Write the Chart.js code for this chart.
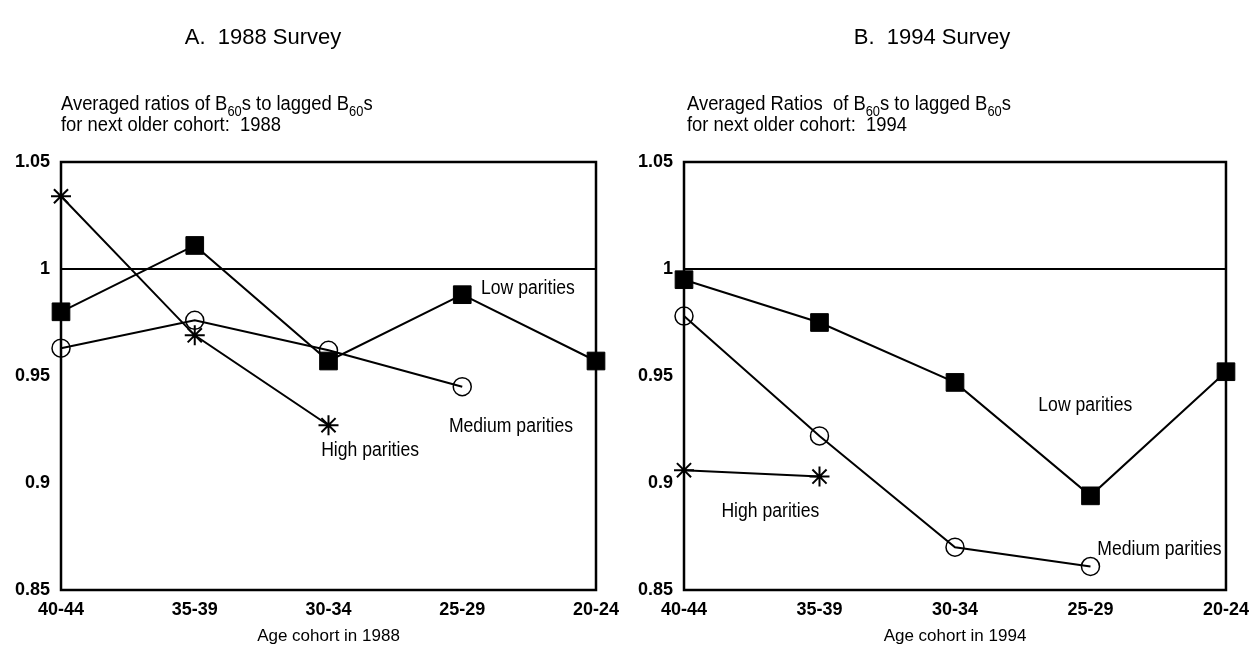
<!DOCTYPE html>
<html>
<head>
<meta charset="utf-8">
<script src="https://cdn.jsdelivr.net/npm/chart.js@4.4.1/dist/chart.umd.min.js"></script>
<style>
  body { margin: 0; background: #fff; }
  .panel { position: absolute; top: 0; width: 629px; height: 650px; }
  #panel-a { left: 0; }
  #panel-b { left: 629px; }
</style>
</head>
<body>
<div class="panel" id="panel-a"><canvas id="chart-1988" width="629" height="650"></canvas></div>
<div class="panel" id="panel-b"><canvas id="chart-1994" width="629" height="650"></canvas></div>
<script>
  const AGE_COHORTS = ["40-44", "35-39", "30-34", "25-29", "20-24"];
  const Y_TICKS = [0.85, 0.9, 0.95, 1, 1.05];

  // averaged ratios, 1988 survey
  const LOW_1988 = [0.980, 1.011, 0.957, 0.988, 0.957];
  const MEDIUM_1988 = [0.963, 0.976, 0.962, 0.945, null];
  const HIGH_1988 = [1.034, 0.969, 0.927, null, null];

  // averaged ratios, 1994 survey
  const LOW_1994 = [0.995, 0.975, 0.947, 0.894, 0.952];
  const MEDIUM_1994 = [0.978, 0.922, 0.870, 0.861, null];
  const HIGH_1994 = [0.906, 0.903, null, null, null];

  const FONT = "'Liberation Sans', Arial, Helvetica, sans-serif";

  // draws text made of plain strings and {sub: "..."} parts, squeezed horizontally
  const drawRich = function (ctx, parts, x, y, size, squeeze) {
    ctx.save();
    ctx.translate(x, y);
    ctx.scale(squeeze, 1);
    ctx.textAlign = "left";
    ctx.textBaseline = "alphabetic";
    let cx = 0;
    parts.forEach((p) => {
      if (typeof p === "string") {
        ctx.font = size + "px " + FONT;
        ctx.fillText(p, cx, 0);
        cx += ctx.measureText(p).width;
      } else {
        const s = Math.round(size * 0.68);
        ctx.font = s + "px " + FONT;
        ctx.fillText(p.sub, cx, size * 0.3);
        cx += ctx.measureText(p.sub).width;
      }
    });
    ctx.restore();
  };

  const surveyDecor = {
    id: "surveyDecor",
    beforeDatasetsDraw: function (chart) {
      const ctx = chart.ctx;
      const a = chart.chartArea;
      const y1 = chart.scales.y.getPixelForValue(1);
      ctx.save();
      ctx.strokeStyle = "#000";
      ctx.lineWidth = 2.5;
      ctx.strokeRect(a.left, a.top, a.right - a.left, a.bottom - a.top);
      ctx.lineWidth = 2;
      ctx.beginPath();
      ctx.moveTo(a.left, y1);
      ctx.lineTo(a.right, y1);
      ctx.stroke();
      ctx.restore();
    },
    afterDraw: function (chart) {
      const ctx = chart.ctx;
      const a = chart.chartArea;
      const o = chart.options.plugins.surveyDecor;
      const xs = chart.scales.x;
      const ys = chart.scales.y;
      ctx.save();
      ctx.fillStyle = "#000";
      ctx.font = "22px " + FONT;
      ctx.textAlign = "center";
      ctx.textBaseline = "middle";
      ctx.fillText(o.title, o.titleX, 38);

      drawRich(ctx, o.subtitle[0], o.subX, 110, 20, 0.92);
      drawRich(ctx, o.subtitle[1], o.subX, 131, 20, 0.92);

      ctx.font = "17px " + FONT;
      ctx.textAlign = "center";
      ctx.textBaseline = "middle";
      ctx.fillText(o.xTitle, (a.left + a.right) / 2, 636);

      o.notes.forEach((n) => {
        ctx.save();
        ctx.translate(xs.getPixelForValue(n.at), ys.getPixelForValue(n.value));
        ctx.scale(0.88, 1);
        ctx.font = "20px " + FONT;
        ctx.textAlign = "left";
        ctx.textBaseline = "middle";
        ctx.fillText(n.text, 0, 0);
        ctx.restore();
      });
      ctx.restore();
    },
  };

  const lowSeries = function (data) {
    return {
      label: "Low parities",
      data,
      borderColor: "#000",
      borderWidth: 2,
      pointStyle: "rect",
      pointRadius: 12.5,
      pointBackgroundColor: "#000",
      pointBorderColor: "#000",
      pointBorderWidth: 1,
      tension: 0,
      clip: false,
    };
  };
  const mediumSeries = function (data) {
    return {
      label: "Medium parities",
      data,
      borderColor: "#000",
      borderWidth: 2,
      pointStyle: "circle",
      pointRadius: 9,
      pointBackgroundColor: "rgba(0,0,0,0)",
      pointBorderColor: "#000",
      pointBorderWidth: 1.5,
      tension: 0,
      clip: false,
    };
  };
  const highSeries = function (data) {
    return {
      label: "High parities",
      data,
      borderColor: "#000",
      borderWidth: 2,
      pointStyle: "star",
      pointRadius: 10,
      pointBorderColor: "#000",
      pointBorderWidth: 2,
      tension: 0,
      clip: false,
    };
  };

  const makeChart = function (canvasId, cfg) {
    return new Chart(document.getElementById(canvasId), {
      type: "line",
      data: {
        labels: AGE_COHORTS,
        datasets: [lowSeries(cfg.low), mediumSeries(cfg.medium), highSeries(cfg.high)],
      },
      options: {
        responsive: false,
        animation: false,
        devicePixelRatio: 1,
        layout: { padding: { top: 162, right: cfg.padRight, bottom: 0, left: 0 } },
        plugins: {
          legend: { display: false },
          tooltip: { enabled: false },
          surveyDecor: cfg.decor,
        },
        scales: {
          x: {
            type: "category",
            offset: false,
            grid: { display: false, drawTicks: false },
            border: { display: false },
            ticks: {
              color: "#000",
              font: { family: FONT, size: 18, weight: "bold" },
              padding: 9,
              maxRotation: 0,
              autoSkip: false,
            },
            afterFit: (s) => {
              s.height = 60;
            },
          },
          y: {
            min: 0.85,
            max: 1.05,
            grid: { display: false, drawTicks: false },
            border: { display: false },
            afterBuildTicks: (s) => {
              s.ticks = Y_TICKS.map((v) => ({ value: v }));
            },
            ticks: {
              color: "#000",
              font: { family: FONT, size: 18, weight: "bold" },
              padding: 11,
              callback: (v) => String(v),
            },
            afterFit: (s) => {
              s.width = cfg.yWidth;
            },
          },
        },
      },
      plugins: [surveyDecor],
    });
  };

  makeChart("chart-1988", {
    low: LOW_1988,
    medium: MEDIUM_1988,
    high: HIGH_1988,
    yWidth: 61,
    padRight: 33,
    decor: {
      title: "A.  1988 Survey",
      titleX: 263,
      subX: 61,
      subtitle: [
        ["Averaged ratios of B", { sub: "60" }, "s to lagged B", { sub: "60" }, "s"],
        ["for next older cohort:  1988"],
      ],
      xTitle: "Age cohort in 1988",
      notes: [
        { text: "Low parities", at: 3.14, value: 0.991 },
        { text: "Medium parities", at: 2.9, value: 0.9264 },
        { text: "High parities", at: 1.945, value: 0.9151 },
      ],
    },
  });

  makeChart("chart-1994", {
    low: LOW_1994,
    medium: MEDIUM_1994,
    high: HIGH_1994,
    yWidth: 55,
    padRight: 30,
    decor: {
      title: "B.  1994 Survey",
      titleX: 303,
      subX: 58,
      subtitle: [
        ["Averaged Ratios  of B", { sub: "60" }, "s to lagged B", { sub: "60" }, "s"],
        ["for next older cohort:  1994"],
      ],
      xTitle: "Age cohort in 1994",
      notes: [
        { text: "Low parities", at: 2.615, value: 0.936 },
        { text: "High parities", at: 0.276, value: 0.8865 },
        { text: "Medium parities", at: 3.05, value: 0.869 },
      ],
    },
  });
</script>
</body>
</html>
